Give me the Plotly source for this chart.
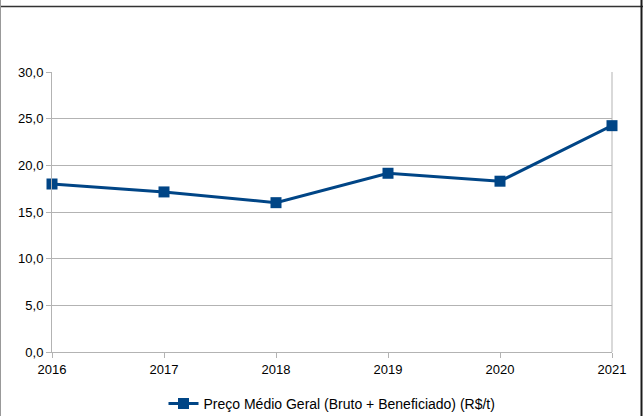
import plotly.graph_objects as go

years = [2016, 2017, 2018, 2019, 2020, 2021]
precos = [18.0, 17.15, 16.0, 19.15, 18.3, 24.25]
series_name = "Preço Médio Geral (Bruto + Beneficiado) (R$/t)"
y_ticks = [0, 5, 10, 15, 20, 25, 30]

W, H = 643, 416
L, R, T, B = 52, 31, 72, 64
pw, ph = W - L - R, H - T - B

def px_x(p):
    return (p - L) / pw

def px_y(p):
    return (H - B - p) / ph

fig = go.Figure()
fig.add_trace(go.Scatter(
    x=years, y=precos, name=series_name, mode="lines+markers",
    line=dict(color="#004586", width=3),
    marker=dict(symbol="square", size=11, color="#004586"),
    cliponaxis=False,
))

fig.update_layout(
    width=W, height=H,
    margin=dict(l=L, r=R, t=T, b=B, autoexpand=False),
    paper_bgcolor="white", plot_bgcolor="white",
    font=dict(family="Liberation Sans, Arial, sans-serif", size=13, color="#000000"),
    separators=",.",
    showlegend=True,
    legend=dict(orientation="h", x=0.5, xanchor="center",
                yref="container", y=(H - 404) / H, yanchor="middle",
                font=dict(size=14), itemwidth=30),
    xaxis=dict(range=[2016, 2021], tickvals=years, ticktext=[str(y) for y in years],
               showgrid=False, zeroline=False, showline=True, linecolor="#b3b3b3",
               mirror=False, ticks="outside", ticklen=5, tickcolor="#b3b3b3",
               tickfont=dict(size=13)),
    yaxis=dict(range=[0, 30], tickvals=y_ticks, tickformat=".1f",
               showgrid=True, gridcolor="#b3b3b3", gridwidth=1, zeroline=False,
               showline=True, linecolor="#b3b3b3", ticks="outside", ticklen=5,
               tickcolor="#b3b3b3", tickfont=dict(size=13)),
)

# right plot border
fig.add_shape(type="line", xref="paper", yref="paper", x0=1, x1=1, y0=0, y1=1,
              line=dict(color="#b3b3b3", width=1), layer="below")
# outer frame
fig.add_shape(type="line", xref="paper", yref="paper", x0=px_x(0), x1=px_x(643), y0=px_y(6.5), y1=px_y(6.5),
              line=dict(color="#333333", width=1.5))
fig.add_shape(type="line", xref="paper", yref="paper", x0=px_x(0.5), x1=px_x(0.5), y0=px_y(0), y1=px_y(416),
              line=dict(color="#999999", width=1))
fig.add_shape(type="line", xref="paper", yref="paper", x0=px_x(641.5), x1=px_x(641.5), y0=px_y(0), y1=px_y(416),
              line=dict(color="#1a1a1a", width=2))

fig.write_html("out.html", config={"displayModeBar": False},
               post_script="document.body.style.margin='0';document.body.style.overflow='hidden';")
